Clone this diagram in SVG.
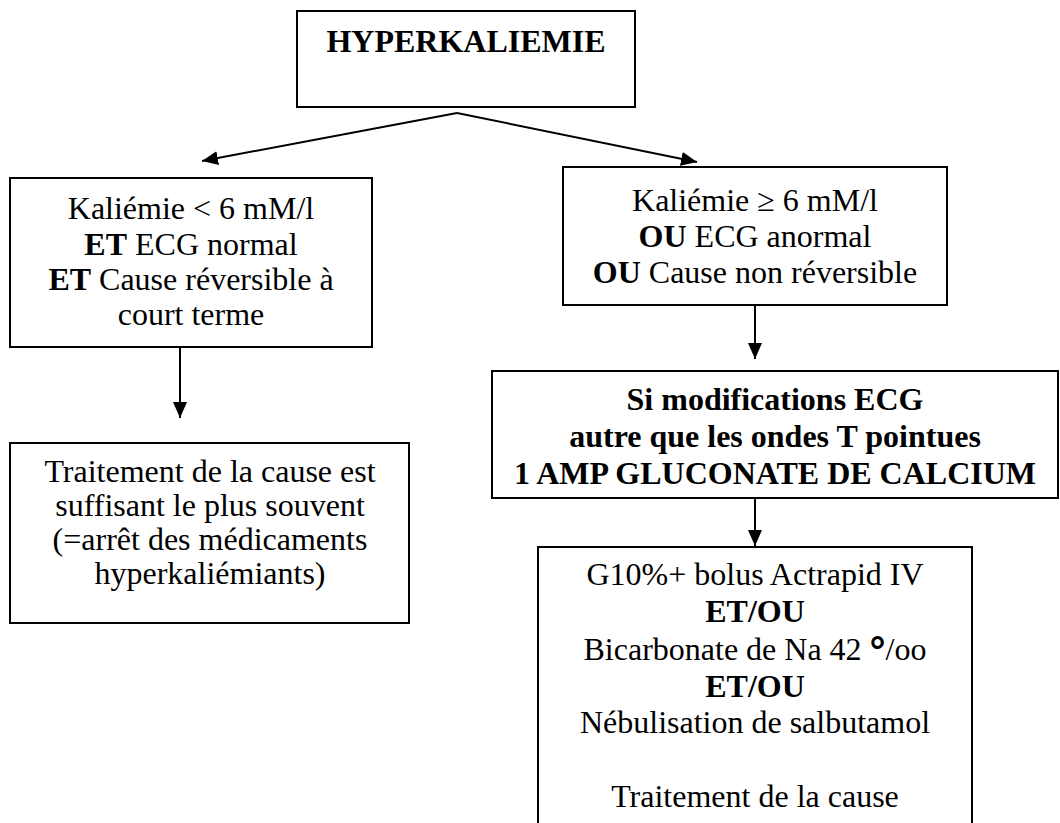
<svg xmlns="http://www.w3.org/2000/svg" width="1060" height="823" viewBox="0 0 1060 823">
<style>
.box{fill:#fff;stroke:#000;stroke-width:2}
.t{font-family:"Liberation Serif","Times New Roman",serif;font-size:32px;fill:#000;text-anchor:middle}
.b{font-weight:bold}
.c{stroke:#000;stroke-width:2;fill:none;marker-end:url(#ah)}
</style>
<defs>
<marker id="ah" viewBox="0 0 16 14" refX="16" refY="7" markerWidth="16" markerHeight="14" orient="auto" markerUnits="userSpaceOnUse">
<path d="M0,0 L16,7 L0,14 z" fill="#000"/>
</marker>
</defs>
<rect width="1060" height="823" fill="#fff"/>
<g id="connectors">
<path class="c" d="M457,113 L202,161"/>
<path class="c" d="M457,113 L697,162"/>
<path class="c" d="M180,347 L180,418"/>
<path class="c" d="M755,305 L755,359"/>
<path class="c" d="M755,498 L755,546"/>
</g>
<g id="hyperkaliemie">
<rect class="box" x="297" y="11" width="338" height="96"/>
<text class="t b" x="466" y="52">HYPERKALIEMIE</text>
</g>
<g id="kaliemie-basse">
<rect class="box" x="10" y="178" width="362" height="169"/>
<text class="t" x="191" y="219">Kaliémie &lt; 6 mM/l</text>
<text class="t" x="191" y="255"><tspan class="b">ET</tspan> ECG normal</text>
<text class="t" x="191" y="290"><tspan class="b">ET</tspan> Cause réversible à</text>
<text class="t" x="191" y="325">court terme</text>
</g>
<g id="traitement-cause">
<rect class="box" x="10" y="443" width="399" height="180"/>
<text class="t" x="210" y="482">Traitement de la cause est</text>
<text class="t" x="210" y="516">suffisant le plus souvent</text>
<text class="t" x="210" y="550">(=arrêt des médicaments</text>
<text class="t" x="210" y="584">hyperkaliémiants)</text>
</g>
<g id="kaliemie-haute">
<rect class="box" x="563" y="167" width="384" height="138"/>
<text class="t" x="755" y="211">Kaliémie ≥ 6 mM/l</text>
<text class="t" x="755" y="247"><tspan class="b">OU</tspan> ECG anormal</text>
<text class="t" x="755" y="283"><tspan class="b">OU</tspan> Cause non réversible</text>
</g>
<g id="gluconate-calcium">
<rect class="box" x="492" y="371" width="566" height="127"/>
<text class="t b" x="775" y="410">Si modifications ECG</text>
<text class="t b" x="775" y="447">autre que les ondes T pointues</text>
<text class="t b" x="775" y="484">1 AMP GLUCONATE DE CALCIUM</text>
</g>
<g id="traitements">
<rect class="box" x="538" y="547" width="434" height="290"/>
<text class="t" x="755" y="585">G10%+ bolus Actrapid IV</text>
<text class="t b" x="755" y="622">ET/OU</text>
<text class="t" x="755" y="660">Bicarbonate de Na 42 <tspan font-family="Liberation Sans, Arial, sans-serif" font-size="40" font-weight="bold" dy="5">°</tspan><tspan dy="-5">/oo</tspan></text>
<text class="t b" x="755" y="697">ET/OU</text>
<text class="t" x="755" y="733">Nébulisation de salbutamol</text>
<text class="t" x="755" y="807">Traitement de la cause</text>
</g>
</svg>
